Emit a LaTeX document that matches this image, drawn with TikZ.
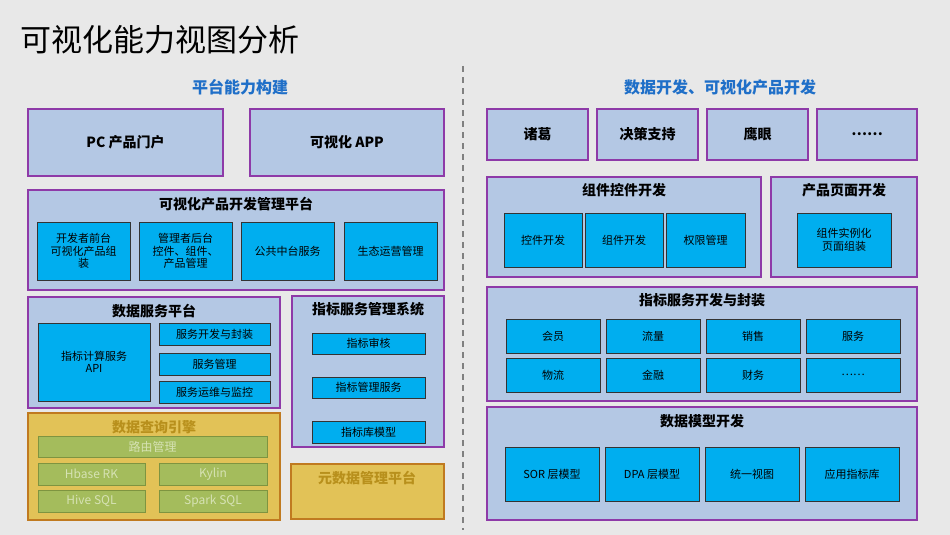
\documentclass[tikz,border=0pt]{standalone}
\usepackage{fontspec}
\setmainfont{Noto Sans CJK SC}
\definecolor{bg}{HTML}{E8E8E8}
\definecolor{panel}{HTML}{B4C8E4}
\definecolor{pur}{HTML}{8E3AA8}
\definecolor{cy}{HTML}{00AEEF}
\definecolor{hdr}{HTML}{1F6FC8}
\definecolor{yel}{HTML}{E2C257}
\definecolor{yedge}{HTML}{C07A20}
\definecolor{ytxt}{HTML}{B8901C}
\definecolor{grn}{HTML}{A4BC5C}
\definecolor{gedge}{HTML}{7E9440}
\definecolor{gtxt}{HTML}{D6E2B4}
\tikzset{
 panel/.style={draw=pur,line width=1.2pt,fill=panel,inner sep=0},
 cbox/.style={draw=black!80,line width=1pt,fill=cy,inner sep=1pt,font=\fontsize{11}{12.5}\selectfont,align=center},
 ybox/.style={draw=yedge,line width=1.5pt,fill=yel,inner sep=0},
 gbox/.style={draw=gedge,line width=1pt,fill=grn,inner sep=0,text=gtxt,font=\fontsize{12}{13}\selectfont},
 ttl/.style={font=\bfseries\fontsize{14}{16}\selectfont,inner sep=0},
 hd/.style={font=\bfseries\fontsize{16}{18}\selectfont,text=hdr,inner sep=0},
 big/.style={font=\bfseries\fontsize{14}{16}\selectfont,align=center}
}
\newcommand\bx[6]{\node[#1,minimum width={(#4)-(#2)},minimum height={(#5)-(#3)}] (#6) at ({(#2+#4)/2},{(#3+#5)/2})}
\begin{document}
\begin{tikzpicture}[x=1pt,y=-1pt]
\fill[bg] (0,0) rectangle (950,535);
\useasboundingbox (0,0) rectangle (950,535);
\node[anchor=west,font=\fontsize{31}{34}\selectfont,inner sep=0] (title) at (20,40) {可视化能力视图分析};
\coordinate (d1) at (463,66); \coordinate (d2) at (463,530);
\draw[gray,line width=2pt,dash pattern=on 6pt off 5pt] (d1) -- (d2);
\node[hd] (hl) at (240,87) {平台能力构建};
\node[hd] (hr) at (720,87) {数据开发、可视化产品开发};
% left top
\bx{panel,big}{28}{109}{223}{176}{pc}{PC 产品门户};
\bx{panel,big}{250}{109}{444}{176}{app}{可视化 APP};
\bx{panel}{28}{190}{444}{290}{p1}{};
\node[ttl] (t1) at (236,204) {可视化产品开发管理平台};
\bx{cbox}{37}{222}{130}{280}{a1}{开发者前台\\可视化产品组\\装};
\bx{cbox}{139}{222}{232}{280}{a2}{管理者后台\\控件、组件、\\产品管理};
\bx{cbox}{241}{222}{334}{280}{a3}{公共中台服务};
\bx{cbox}{344}{222}{437}{280}{a4}{生态运营管理};
\bx{panel}{28}{297}{280}{408}{p2}{};
\node[ttl] (t2) at (154,311) {数据服务平台};
\bx{cbox}{38}{323}{150}{401}{b1}{指标计算服务\\API};
\bx{cbox}{159}{323}{270}{345}{b2}{服务开发与封装};
\bx{cbox}{159}{353}{270}{375}{b3}{服务管理};
\bx{cbox}{159}{381}{270}{403}{b4}{服务运维与监控};
\bx{panel}{292}{296}{444}{447}{p3}{};
\node[ttl] (t3) at (368,309) {指标服务管理系统};
\bx{cbox}{312}{333}{425}{354}{c1}{指标审核};
\bx{cbox}{312}{377}{425}{398}{c2}{指标管理服务};
\bx{cbox}{312}{421}{425}{443}{c3}{指标库模型};
\bx{ybox}{28}{413}{280}{520}{p4}{};
\node[ttl,text=ytxt] (t4) at (154,427) {数据查询引擎};
\bx{gbox}{38}{436}{267}{457}{g1}{路由管理};
\bx{gbox}{38}{463}{145}{485}{g2}{Hbase RK};
\bx{gbox}{159}{463}{267}{485}{g3}{Kylin};
\bx{gbox}{38}{490}{145}{512}{g4}{Hive SQL};
\bx{gbox}{159}{490}{267}{512}{g5}{Spark SQL};
\bx{ybox}{291}{464}{444}{519}{p5}{};
\node[ttl,text=ytxt] (t5) at (367,478) {元数据管理平台};
% right
\bx{panel,big}{487}{109}{588}{160}{r1}{诸葛};
\bx{panel,big}{597}{109}{698}{160}{r2}{决策支持};
\bx{panel,big}{707}{109}{808}{160}{r3}{鹰眼};
\bx{panel,big}{817}{109}{917}{160}{r4}{……};
\bx{panel}{487}{177}{761}{277}{q1}{};
\node[ttl] (s1) at (624,190) {组件控件开发};
\bx{cbox}{504}{213}{582}{267}{e1}{控件开发};
\bx{cbox}{585}{213}{663}{267}{e2}{组件开发};
\bx{cbox}{666}{213}{745}{267}{e3}{权限管理};
\bx{panel}{771}{177}{917}{277}{q2}{};
\node[ttl] (s2) at (844,190) {产品页面开发};
\bx{cbox}{797}{213}{891}{267}{f1}{组件实例化\\页面组装};
\bx{panel}{487}{287}{917}{401}{q3}{};
\node[ttl] (s3) at (702,300) {指标服务开发与封装};
\bx{cbox}{506}{319}{600}{353}{h1}{会员};
\bx{cbox}{606}{319}{700}{353}{h2}{流量};
\bx{cbox}{706}{319}{800}{353}{h3}{销售};
\bx{cbox}{806}{319}{900}{353}{h4}{服务};
\bx{cbox}{506}{358}{600}{392}{h5}{物流};
\bx{cbox}{606}{358}{700}{392}{h6}{金融};
\bx{cbox}{706}{358}{800}{392}{h7}{财务};
\bx{cbox}{806}{358}{900}{392}{h8}{……};
\bx{panel}{487}{407}{917}{520}{q4}{};
\node[ttl] (s4) at (702,421) {数据模型开发};
\bx{cbox}{505}{447}{599}{501}{m1}{SOR 层模型};
\bx{cbox}{605}{447}{699}{501}{m2}{DPA 层模型};
\bx{cbox}{705}{447}{799}{501}{m3}{统一视图};
\bx{cbox}{805}{447}{899}{501}{m4}{应用指标库};
\end{tikzpicture}
\end{document}
